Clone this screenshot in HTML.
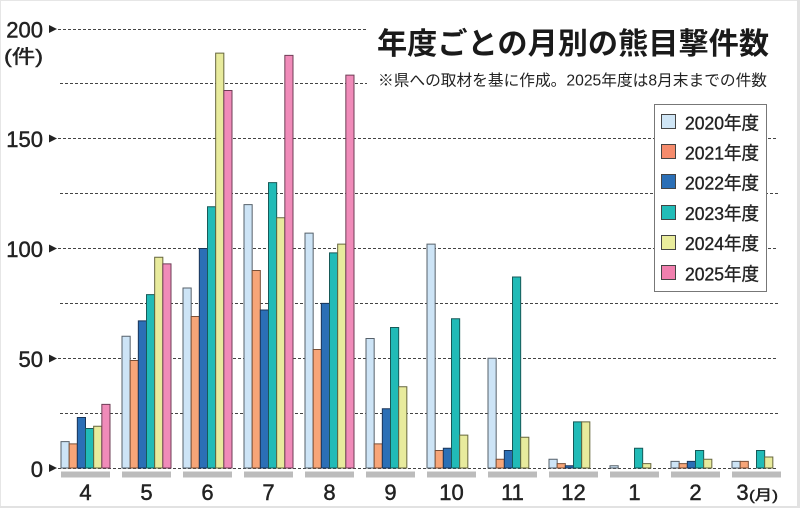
<!DOCTYPE html>
<html><head><meta charset="utf-8"><style>
html,body{margin:0;padding:0;background:#fff;}
svg{display:block;}
.s0{fill:#cde4f6;stroke:#56606a;}
.s1{fill:#f7a578;stroke:#7a5038;}
.s2{fill:#2b6fb6;stroke:#1b3558;}
.s3{fill:#21bbb7;stroke:#175a58;}
.s4{fill:#e8eb9d;stroke:#66663e;}
.s5{fill:#f08bb9;stroke:#6e3e55;}
rect.b{stroke-width:1;vector-effect:non-scaling-stroke;}
text{font-family:"Liberation Sans","Noto Sans CJK JP",sans-serif;fill:#222;}
.tk{stroke:#222;stroke-width:0.45;}
</style></head><body>
<svg width="800" height="508" viewBox="0 0 800 508" xmlns="http://www.w3.org/2000/svg">
<rect x="0" y="0" width="800" height="508" fill="#fff"/>
<!-- frame -->
<rect x="0" y="0" width="800" height="1" fill="#e6e6e6"/>
<rect x="0" y="0" width="1" height="508" fill="#e6e6e6"/>
<rect x="797" y="0" width="3" height="508" fill="#e2e2e2"/>
<rect x="0" y="506" width="800" height="2" fill="#e2e2e2"/>

<!-- gridlines -->
<g stroke="#444" stroke-width="1" stroke-dasharray="3 2" fill="none">
<line x1="58" y1="29.5" x2="778" y2="29.5"/>
<line x1="60" y1="83.5" x2="778" y2="83.5"/>
<line x1="58" y1="138.5" x2="778" y2="138.5"/>
<line x1="60" y1="193.5" x2="778" y2="193.5"/>
<line x1="58" y1="248.5" x2="778" y2="248.5"/>
<line x1="60" y1="303.5" x2="778" y2="303.5"/>
<line x1="58" y1="358.5" x2="778" y2="358.5"/>
<line x1="60" y1="413.5" x2="778" y2="413.5"/>
<line x1="58" y1="468.5" x2="778" y2="468.5"/>
</g>

<!-- y-axis arrows -->
<g fill="#222">
<polygon points="49,25 57,29 49,33"/>
<polygon points="49,134.5 57,138.5 49,142.5"/>
<polygon points="49,244.5 57,248.5 49,252.5"/>
<polygon points="49,354.5 57,358.5 49,362.5"/>
<polygon points="49,464 57,468 49,472"/>
</g>
<g font-size="22" text-anchor="end" class="tk">
<text x="43" y="37.5">200</text>
<text x="43" y="147">150</text>
<text x="43" y="257">100</text>
<text x="43" y="367">50</text>
<text x="43" y="477">0</text>
</g>
<text x="4" y="63" font-size="19" textLength="39" lengthAdjust="spacingAndGlyphs" class="tk">(件)</text>

<!-- bars -->
<g transform="translate(61,468) scale(1,-2.195)">
<rect class="b s0" x="0" y="0" width="8.167" height="12"/>
<rect class="b s1" x="8.167" y="0" width="8.167" height="11"/>
<rect class="b s2" x="16.333" y="0" width="8.167" height="23"/>
<rect class="b s3" x="24.5" y="0" width="8.167" height="18"/>
<rect class="b s4" x="32.667" y="0" width="8.167" height="19"/>
<rect class="b s5" x="40.833" y="0" width="8.167" height="29"/>
</g>
<g transform="translate(122,468) scale(1,-2.195)">
<rect class="b s0" x="0" y="0" width="8.167" height="60"/>
<rect class="b s1" x="8.167" y="0" width="8.167" height="49"/>
<rect class="b s2" x="16.333" y="0" width="8.167" height="67"/>
<rect class="b s3" x="24.5" y="0" width="8.167" height="79"/>
<rect class="b s4" x="32.667" y="0" width="8.167" height="96"/>
<rect class="b s5" x="40.833" y="0" width="8.167" height="93"/>
</g>
<g transform="translate(183,468) scale(1,-2.195)">
<rect class="b s0" x="0" y="0" width="8.167" height="82"/>
<rect class="b s1" x="8.167" y="0" width="8.167" height="69"/>
<rect class="b s2" x="16.333" y="0" width="8.167" height="100"/>
<rect class="b s3" x="24.5" y="0" width="8.167" height="119"/>
<rect class="b s4" x="32.667" y="0" width="8.167" height="189"/>
<rect class="b s5" x="40.833" y="0" width="8.167" height="172"/>
</g>
<g transform="translate(244,468) scale(1,-2.195)">
<rect class="b s0" x="0" y="0" width="8.167" height="120"/>
<rect class="b s1" x="8.167" y="0" width="8.167" height="90"/>
<rect class="b s2" x="16.333" y="0" width="8.167" height="72"/>
<rect class="b s3" x="24.5" y="0" width="8.167" height="130"/>
<rect class="b s4" x="32.667" y="0" width="8.167" height="114"/>
<rect class="b s5" x="40.833" y="0" width="8.167" height="188"/>
</g>
<g transform="translate(305,468) scale(1,-2.195)">
<rect class="b s0" x="0" y="0" width="8.167" height="107"/>
<rect class="b s1" x="8.167" y="0" width="8.167" height="54"/>
<rect class="b s2" x="16.333" y="0" width="8.167" height="75"/>
<rect class="b s3" x="24.5" y="0" width="8.167" height="98"/>
<rect class="b s4" x="32.667" y="0" width="8.167" height="102"/>
<rect class="b s5" x="40.833" y="0" width="8.167" height="179"/>
</g>
<g transform="translate(366,468) scale(1,-2.195)">
<rect class="b s0" x="0" y="0" width="8.167" height="59"/>
<rect class="b s1" x="8.167" y="0" width="8.167" height="11"/>
<rect class="b s2" x="16.333" y="0" width="8.167" height="27"/>
<rect class="b s3" x="24.5" y="0" width="8.167" height="64"/>
<rect class="b s4" x="32.667" y="0" width="8.167" height="37"/>
</g>
<g transform="translate(427,468) scale(1,-2.195)">
<rect class="b s0" x="0" y="0" width="8.167" height="102"/>
<rect class="b s1" x="8.167" y="0" width="8.167" height="8"/>
<rect class="b s2" x="16.333" y="0" width="8.167" height="9"/>
<rect class="b s3" x="24.5" y="0" width="8.167" height="68"/>
<rect class="b s4" x="32.667" y="0" width="8.167" height="15"/>
</g>
<g transform="translate(488,468) scale(1,-2.195)">
<rect class="b s0" x="0" y="0" width="8.167" height="50"/>
<rect class="b s1" x="8.167" y="0" width="8.167" height="4"/>
<rect class="b s2" x="16.333" y="0" width="8.167" height="8"/>
<rect class="b s3" x="24.5" y="0" width="8.167" height="87"/>
<rect class="b s4" x="32.667" y="0" width="8.167" height="14"/>
</g>
<g transform="translate(549,468) scale(1,-2.195)">
<rect class="b s0" x="0" y="0" width="8.167" height="4"/>
<rect class="b s1" x="8.167" y="0" width="8.167" height="2"/>
<rect class="b s2" x="16.333" y="0" width="8.167" height="1"/>
<rect class="b s3" x="24.5" y="0" width="8.167" height="21"/>
<rect class="b s4" x="32.667" y="0" width="8.167" height="21"/>
</g>
<g transform="translate(610,468) scale(1,-2.195)">
<rect class="b s0" x="0" y="0" width="8.167" height="1"/>
<rect class="b s3" x="24.5" y="0" width="8.167" height="9"/>
<rect class="b s4" x="32.667" y="0" width="8.167" height="2"/>
</g>
<g transform="translate(671,468) scale(1,-2.195)">
<rect class="b s0" x="0" y="0" width="8.167" height="3"/>
<rect class="b s1" x="8.167" y="0" width="8.167" height="2"/>
<rect class="b s2" x="16.333" y="0" width="8.167" height="3"/>
<rect class="b s3" x="24.5" y="0" width="8.167" height="8"/>
<rect class="b s4" x="32.667" y="0" width="8.167" height="4"/>
</g>
<g transform="translate(732,468) scale(1,-2.195)">
<rect class="b s0" x="0" y="0" width="8.167" height="3"/>
<rect class="b s1" x="8.167" y="0" width="8.167" height="3"/>
<rect class="b s3" x="24.5" y="0" width="8.167" height="8"/>
<rect class="b s4" x="32.667" y="0" width="8.167" height="5"/>
</g>

<!-- gray axis blocks -->
<g fill="#bcbcbc">
<rect x="61" y="471.5" width="49" height="6"/>
<rect x="122" y="471.5" width="49" height="6"/>
<rect x="183" y="471.5" width="49" height="6"/>
<rect x="244" y="471.5" width="49" height="6"/>
<rect x="305" y="471.5" width="49" height="6"/>
<rect x="366" y="471.5" width="49" height="6"/>
<rect x="427" y="471.5" width="49" height="6"/>
<rect x="488" y="471.5" width="49" height="6"/>
<rect x="549" y="471.5" width="49" height="6"/>
<rect x="610" y="471.5" width="49" height="6"/>
<rect x="671" y="471.5" width="49" height="6"/>
<rect x="732" y="471.5" width="49" height="6"/>
</g>
<g font-size="22" text-anchor="middle" class="tk">
<text x="85.5" y="500">4</text>
<text x="146.5" y="500">5</text>
<text x="207.5" y="500">6</text>
<text x="268.5" y="500">7</text>
<text x="329.5" y="500">8</text>
<text x="390.5" y="500">9</text>
<text x="451.5" y="500">10</text>
<text x="512.5" y="500">11</text>
<text x="573.5" y="500">12</text>
<text x="634.5" y="500">1</text>
<text x="695.5" y="500">2</text>
<text x="742.5" y="500">3</text>
</g>
<text x="749" y="500" font-size="14" textLength="29" lengthAdjust="spacingAndGlyphs" class="tk">(月)</text>

<!-- title block -->
<rect x="367" y="16" width="430" height="80" fill="#fff"/>
<text x="377" y="54" font-size="30" font-weight="bold" textLength="392" lengthAdjust="spacingAndGlyphs" style="font-family:'Noto Sans CJK JP','Liberation Sans',sans-serif;fill:#1a1a1a">年度ごとの月別の熊目撃件数</text>
<text x="378" y="85.5" font-size="15.5" textLength="389" lengthAdjust="spacingAndGlyphs">※県への取材を基に作成。2025年度は8月末までの件数</text>

<!-- legend -->
<rect x="654.5" y="104.5" width="112" height="187" fill="#fff" stroke="#777" stroke-width="1"/>
<g stroke="#444" stroke-width="1">
<rect x="661.5" y="114.5" width="14" height="14" fill="#cfe5f5"/>
<rect x="661.5" y="144.5" width="14" height="14" fill="#f58b6c"/>
<rect x="661.5" y="174.5" width="14" height="14" fill="#2b6fb6"/>
<rect x="661.5" y="205.5" width="14" height="14" fill="#22bcb8"/>
<rect x="661.5" y="235.5" width="14" height="14" fill="#e9ec9c"/>
<rect x="661.5" y="265.5" width="14" height="14" fill="#f07fae"/>
</g>
<g font-size="18" class="tk" style="stroke-width:0.35">
<text x="685" y="129.3" textLength="74" lengthAdjust="spacingAndGlyphs">2020年度</text>
<text x="685" y="159.5" textLength="74" lengthAdjust="spacingAndGlyphs">2021年度</text>
<text x="685" y="189.7" textLength="74" lengthAdjust="spacingAndGlyphs">2022年度</text>
<text x="685" y="219.9" textLength="74" lengthAdjust="spacingAndGlyphs">2023年度</text>
<text x="685" y="250.1" textLength="74" lengthAdjust="spacingAndGlyphs">2024年度</text>
<text x="685" y="280.3" textLength="74" lengthAdjust="spacingAndGlyphs">2025年度</text>
</g>
</svg>
</body></html>
